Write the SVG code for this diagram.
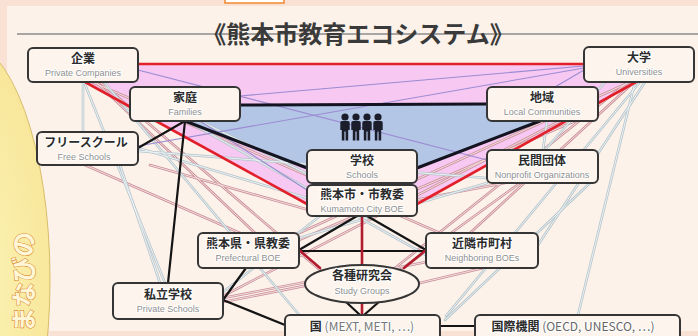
<svg xmlns="http://www.w3.org/2000/svg" xmlns:xlink="http://www.w3.org/1999/xlink" width="698" height="336" viewBox="0 0 698 336">
  <style>
    .box{fill:#fdf5ed;stroke:#353535;stroke-width:2}
    .jp{font-family:"Noto Sans CJK JP","Noto Sans",sans-serif;font-weight:700;font-size:12px;fill:#2b2b2b;stroke:#ffffff;stroke-width:2;paint-order:stroke;text-anchor:middle}
    .en{font-family:"Liberation Sans","DejaVu Sans",sans-serif;font-size:9px;fill:#8f8f8f;stroke:#ffffff;stroke-width:1.6;paint-order:stroke;text-anchor:middle}
    .thin{fill:none;stroke-linecap:round}
    .red{fill:none;stroke:#e2202b;stroke-width:2.6;stroke-linecap:round}
    .dred{fill:none;stroke:#b31c2e;stroke-width:2.6;stroke-linecap:round}
    .blk{fill:none;stroke:#141414;stroke-width:2.2;stroke-linecap:round}
    .blk3{fill:none;stroke:#141420;stroke-width:3;stroke-linecap:round}
    .pur{fill:none;stroke:#9b8bd2;stroke-width:1.1}
  </style>
  <defs>
    <radialGradient id="sun" cx="0.55" cy="0.5" r="0.6">
      <stop offset="0" stop-color="#fcf3b8"/>
      <stop offset="0.8" stop-color="#f8e79a"/>
      <stop offset="1" stop-color="#efd57a"/>
    </radialGradient>
    <symbol id="person" viewBox="0 0 12 28" width="12" height="28">
      <circle cx="6" cy="4" r="3.6"/>
      <path d="M1.3 9.5Q1.3 8 3 8L9 8Q10.7 8 10.7 9.5L10.7 17L9.2 17L9.2 27.5L6.6 27.5L6.6 18.5L5.4 18.5L5.4 27.5L2.8 27.5L2.8 17L1.3 17Z"/>
    </symbol>
    <!-- pink-cased relation lines -->
    <g id="pinkLines">
      <path d="M92 82L440 233"/>
      <path d="M96 82L255 233"/>
      <path d="M100 82L320 270"/>
      <path d="M85 165L240 233"/>
      <path d="M630 82L295 235"/>
      <path d="M628 82L395 268"/>
      <path d="M634 82L470 233"/>
      <path d="M560 121L223 296"/>
      <path d="M575 121L299 240"/>
      <path d="M520 183L400 270"/>
      <path d="M505 183L330 216"/>
      <path d="M223 298L306 282"/>
      <path d="M223 302L426 262"/>
      <path d="M420 283L500 264"/>
      <path d="M150 165L330 216"/>
    </g>
    <!-- grey-cased relation lines -->
    <g id="greyLines">
      <path d="M83 82L83 132"/>
      <path d="M84 82L165 283"/>
      <path d="M120 165L160 283"/>
      <path d="M104 82L300 316"/>
      <path d="M187 121L426 255"/>
      <path d="M138 148L307 198"/>
      <path d="M138 151L487 178"/>
      <path d="M635 82L578 315"/>
      <path d="M645 82L538 245"/>
      <path d="M640 82L446 316"/>
      <path d="M590 183L445 320"/>
      <path d="M547 121L543 150"/>
      <path d="M299 238L487 183"/>
      <path d="M223 292L320 216"/>
      <path d="M605 82L545 150"/>
      <path d="M200 121L330 185"/>
    </g>
  </defs>

  <!-- page background and panel -->
  <rect x="0" y="0" width="698" height="336" fill="#f9e2d4"/>
  <rect x="7" y="6" width="691" height="325" fill="#fcf2e9"/>
  <rect x="225" y="-2" width="59" height="5" fill="#ffffff" stroke="#f0892e" stroke-width="1.5"/>

  <!-- decorative disc on the left edge -->
  <g id="disc">
    <ellipse cx="-37" cy="280" rx="87" ry="240" fill="url(#sun)" stroke="#d8bd6a" stroke-width="1"/>
    <text transform="translate(33,232) rotate(-90)" text-anchor="end" font-family="'Noto Sans CJK JP',sans-serif" font-weight="700" font-size="25" fill="#fff6d8" stroke="#dc8d35" stroke-width="1.2" paint-order="stroke">まなびの</text>
  </g>

  <!-- title -->
  <line x1="17" y1="34" x2="698" y2="34" stroke="#8c8c8c" stroke-width="1.5"/>
  <text x="358" y="43" text-anchor="middle" font-family="'Noto Sans CJK JP',sans-serif" font-weight="700" font-size="24" fill="#3a3a3a">《熊本市教育エコシステム》</text>

  <!-- connectors -->
  <g id="connectors">
    <path d="M100 64L620 64L636 82L417 204L307 204L85 82Z" fill="#f6c8f2"/>
    <path d="M200 105L520 104L540 121L417 168L307 168L185 121Z" fill="#b4c6e6"/>
    <use xlink:href="#pinkLines" class="thin" stroke="#cc919b" stroke-width="2.6"/>
    <use xlink:href="#pinkLines" class="thin" stroke="#f7e8e8" stroke-width="0.9"/>
    <use xlink:href="#greyLines" class="thin" stroke="#b7c6cd" stroke-width="2.6"/>
    <use xlink:href="#greyLines" class="thin" stroke="#f2f6f7" stroke-width="0.9"/>
    <path class="pur" d="M584 66L240 96"/>
    <path class="pur" d="M584 68L138 146"/>
    <path class="pur" d="M584 70L555 87"/>
    <path class="pur" d="M138 70L487 160"/>
    <path class="pur" d="M200 121L307 190"/>
    <path class="red" d="M138 64L584 64"/>
    <path class="red" d="M85 82L307 204"/>
    <path class="red" d="M636 82L417 204"/>
    <path class="blk3" d="M240 105L487 104"/>
    <path class="blk3" d="M185 121L307 168"/>
    <path class="blk3" d="M540 121L417 168"/>
    <path class="blk" d="M185 121L138 148"/>
    <path class="blk" d="M185 121L168 283"/>
    <path class="blk" d="M357 216L299 250"/>
    <path class="blk" d="M367 216L426 250"/>
    <path class="blk" d="M299 251L426 251"/>
    <path class="blk" d="M345 301L360 315M380 301L364 315"/>
    <path class="blk" d="M223 300L246 268"/>
    <path class="blk" d="M223 300L285 325"/>
    <path class="blk" d="M440 326L475 326"/>
    <path class="dred" d="M299 250L320 268"/>
    <path class="dred" d="M426 250L404 268"/>
    <path class="dred" stroke-width="2" d="M362 216L362 315"/>
  </g>

  <!-- pupils -->
  <g id="pupils" fill="#1b1d2b">
    <use xlink:href="#person" x="339" y="113"/>
    <use xlink:href="#person" x="350" y="113"/>
    <use xlink:href="#person" x="361" y="113"/>
    <use xlink:href="#person" x="372" y="113"/>
  </g>

  <!-- nodes -->
  <g id="n-company"><rect class="box" x="28" y="48" width="110" height="34" rx="5"/><text class="jp" x="83" y="63">企業</text><text class="en" x="83" y="76">Private Companies</text></g>
  <g id="n-university"><rect class="box" x="584" y="47" width="110" height="35" rx="5"/><text class="jp" x="639" y="62">大学</text><text class="en" x="639" y="75">Universities</text></g>
  <g id="n-family"><rect class="box" x="130" y="87" width="110" height="34" rx="5"/><text class="jp" x="185" y="102">家庭</text><text class="en" x="185" y="115">Families</text></g>
  <g id="n-local"><rect class="box" x="487" y="87" width="111" height="34" rx="5"/><text class="jp" x="542" y="102">地域</text><text class="en" x="542" y="115">Local Communities</text></g>
  <g id="n-free"><rect class="box" x="37" y="132" width="101" height="33" rx="5"/><text class="jp" x="86" y="147">フリースクール</text><text class="en" x="84" y="160">Free Schools</text></g>
  <g id="n-school"><rect class="box" x="307" y="150" width="110" height="33" rx="5"/><text class="jp" x="362" y="165">学校</text><text class="en" x="362" y="178">Schools</text></g>
  <g id="n-city"><rect class="box" x="307" y="185" width="110" height="31" rx="5"/><text class="jp" x="362" y="199">熊本市・市教委</text><text class="en" x="362" y="212">Kumamoto City BOE</text></g>
  <g id="n-npo"><rect class="box" x="487" y="150" width="111" height="33" rx="5"/><text class="jp" x="542" y="165">民間団体</text><text class="en" x="542" y="178">Nonprofit Organizations</text></g>
  <g id="n-private"><rect class="box" x="113" y="283" width="110" height="36" rx="5"/><text class="jp" x="168" y="299">私立学校</text><text class="en" x="168" y="312">Private Schools</text></g>
  <g id="n-prefecture"><rect class="box" x="198" y="233" width="101" height="35" rx="5"/><text class="jp" x="248" y="248">熊本県・県教委</text><text class="en" x="248" y="261">Prefectural BOE</text></g>
  <g id="n-neighbor"><rect class="box" x="426" y="233" width="112" height="35" rx="5"/><text class="jp" x="482" y="248">近隣市町村</text><text class="en" x="482" y="261">Neighboring BOEs</text></g>
  <g id="n-study"><ellipse class="box" cx="362" cy="284" rx="57" ry="19"/><text class="jp" x="362" y="280">各種研究会</text><text class="en" x="362" y="293.5">Study Groups</text></g>
  <g id="n-nation"><rect class="box" x="285" y="315" width="155" height="30" rx="5"/><text class="jp" x="362" y="331">国 <tspan fill="#777777" font-weight="400">(MEXT, METI, ⋯)</tspan></text></g>
  <g id="n-intl"><rect class="box" x="475" y="315" width="205" height="30" rx="5"/><text class="jp" x="573" y="331">国際機関 <tspan fill="#666666" font-weight="400">(OECD, UNESCO, ⋯)</tspan></text></g>
</svg>
